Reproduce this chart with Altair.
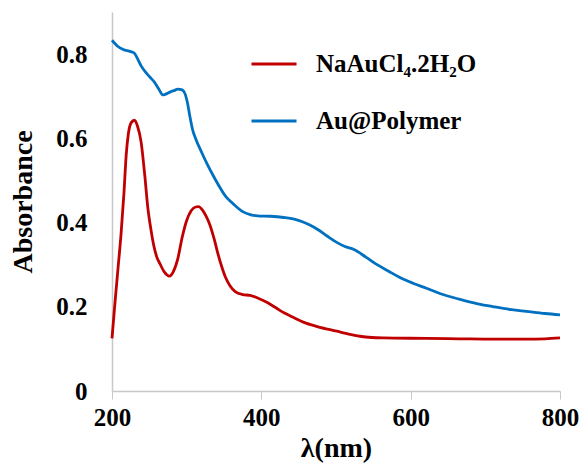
import altair as alt
import pandas as pd

# NaAuCl4.2H2O spectrum (wavelength nm, absorbance)
red_nm = [200, 204, 208, 212, 216, 219, 222, 226, 230, 234, 239, 244, 248, 252, 256, 260, 264, 270,
          277, 282, 288, 294, 300, 306, 312, 316, 321, 326, 331, 337, 342, 347, 352, 358, 365, 375,
          385, 395, 408, 420, 431, 445, 457, 475, 501, 515, 532, 548, 564, 621, 665, 710, 755, 780, 800]
red_abs = [0.125, 0.21, 0.29, 0.37, 0.47, 0.56, 0.612, 0.638, 0.643, 0.63, 0.591, 0.51, 0.435, 0.385,
           0.345, 0.318, 0.303, 0.283, 0.273, 0.283, 0.313, 0.365, 0.405, 0.428, 0.437, 0.438, 0.43,
           0.415, 0.395, 0.36, 0.325, 0.295, 0.27, 0.25, 0.236, 0.229, 0.227, 0.221, 0.21, 0.197,
           0.185, 0.173, 0.163, 0.153, 0.142, 0.136, 0.130, 0.127, 0.126, 0.125, 0.124, 0.123,
           0.123, 0.124, 0.126]

# Au@Polymer spectrum
blue_nm = [200, 204, 208, 215, 225, 230, 234, 239, 245, 251, 257, 263, 268, 272, 279, 284, 288, 294,
           298, 301, 304, 308, 313, 320, 328, 336, 345, 352, 359, 367, 375, 385, 395, 412, 430, 444,
           455, 465, 475, 488, 501, 512, 524, 540, 555, 570, 585, 603, 621, 640, 665, 690, 711, 735,
           755, 780, 800]
blue_abs = [0.833, 0.825, 0.818, 0.811, 0.806, 0.802, 0.79, 0.772, 0.757, 0.745, 0.733, 0.716, 0.703,
            0.705, 0.711, 0.714, 0.717, 0.715, 0.705, 0.685, 0.655, 0.62, 0.595, 0.567, 0.537, 0.51,
            0.482, 0.463, 0.450, 0.437, 0.426, 0.419, 0.416, 0.415, 0.412, 0.408, 0.402, 0.394,
            0.384, 0.368, 0.353, 0.343, 0.336, 0.318, 0.300, 0.285, 0.27, 0.256, 0.244, 0.231,
            0.218, 0.207, 0.200, 0.193, 0.189, 0.184, 0.181]

series_names = ["NaAuCl\u2084.2H\u2082O", "Au@Polymer"]
series_colors = ["#C00000", "#0070C0"]
x_ticks = [200, 400, 600, 800]
y_ticks = [0, 0.2, 0.4, 0.6, 0.8]

df = pd.concat([
    pd.DataFrame({"nm": red_nm, "abs": red_abs, "series": series_names[0]}),
    pd.DataFrame({"nm": blue_nm, "abs": blue_abs, "series": series_names[1]}),
])

FONT = "Liberation Serif"
AXIS_GRAY = "#C8C8C8"

chart = alt.Chart(df).mark_line(strokeWidth=2.8, interpolate="monotone").encode(
    x=alt.X("nm:Q", title="λ(nm)",
            scale=alt.Scale(domain=[200, 800], nice=False, zero=False),
            axis=alt.Axis(values=x_ticks, grid=False, domainColor=AXIS_GRAY, tickColor=AXIS_GRAY,
                          tickSize=8, labelPadding=6, titlePadding=4, labelFlush=False)),
    y=alt.Y("abs:Q", title="Absorbance",
            scale=alt.Scale(domain=[0, 0.9], nice=False),
            axis=alt.Axis(values=y_ticks, format=".1~f", grid=False, ticks=False,
                          domainColor=AXIS_GRAY, labelPadding=25, titlePadding=18,
                          labelFlush=False)),
    color=alt.Color("series:N",
                    scale=alt.Scale(domain=series_names, range=series_colors),
                    legend=alt.Legend(title=None, orient="none", legendX=138, legendY=28,
                                      symbolType="stroke", symbolSize=2025, symbolStrokeWidth=3,
                                      labelFont=FONT, labelFontWeight="bold", labelFontSize=25,
                                      labelColor="black", labelOffset=18, rowPadding=20,
                                      labelLimit=400, padding=0)),
    order=alt.Order("nm:Q"),
).properties(
    width=448, height=379,
    autosize=alt.AutoSizeParams(type="none"),
    padding={"left": 104, "top": 4, "right": 19, "bottom": 72},
).configure_view(
    stroke=None
).configure_axis(
    labelFont=FONT, labelFontWeight="bold", labelFontSize=25, labelColor="black",
    titleFont=FONT, titleFontWeight="bold", titleFontSize=28, titleColor="black",
    domainWidth=1.5,
)

chart.save("out.html", embed_options={"renderer": "svg", "actions": False})
